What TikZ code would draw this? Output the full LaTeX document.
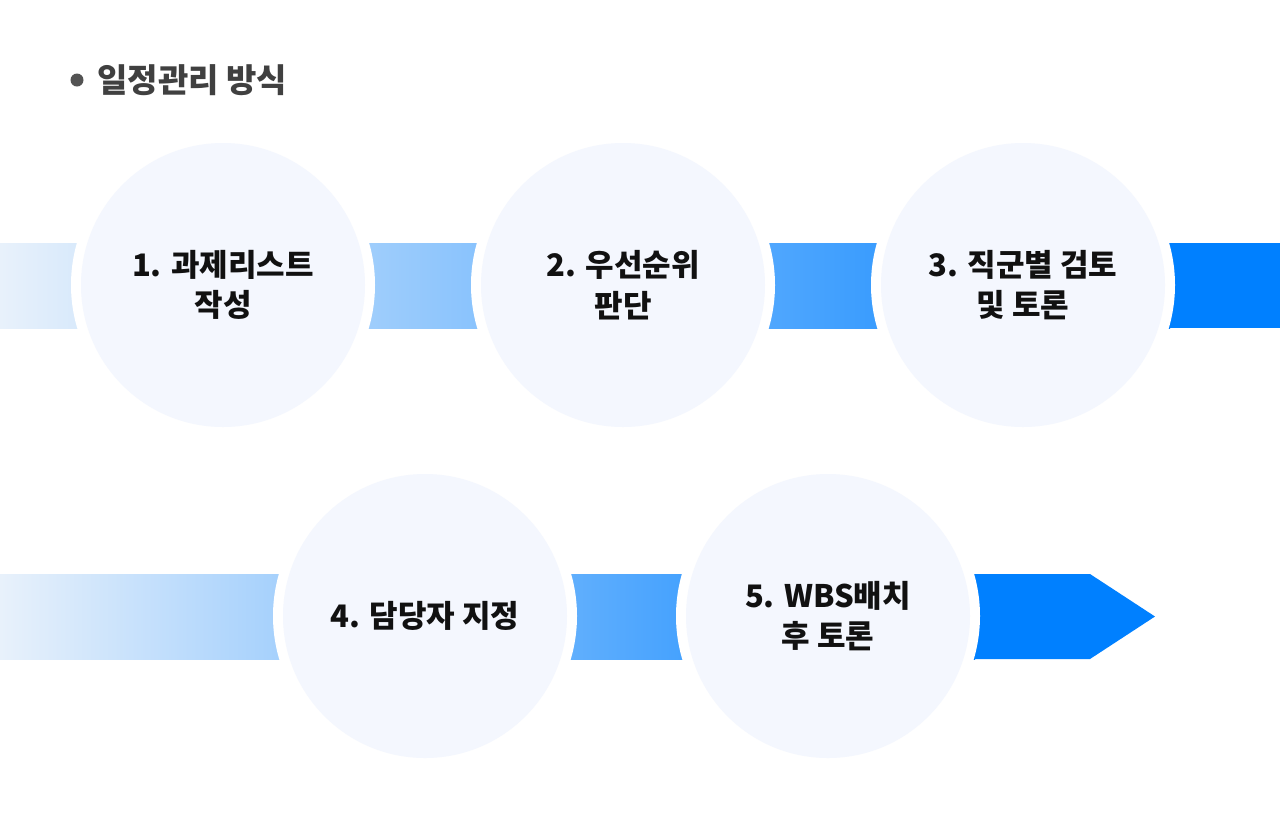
\documentclass[tikz,border=0pt]{standalone}
\usepackage{fontspec}
\setmainfont{Noto Sans CJK KR}
\usepackage{tikz}

\definecolor{bandlight}{HTML}{E8F1FB}
\definecolor{bandblue}{HTML}{0080FF}
\definecolor{circlefill}{HTML}{F4F7FE}
\definecolor{titlegray}{HTML}{404040}
\definecolor{labelblack}{HTML}{111111}

\begin{document}
\begin{tikzpicture}[x=1pt, y=-1pt]
    \tikzset{
      stepcircle/.style={circle, inner sep=0pt, minimum size=284pt, fill=circlefill,
        preaction={draw=white, line width=20pt}, align=center, text=labelblack,
        font=\fontsize{31}{40.5}\selectfont\bfseries},
      title/.style={anchor=west, text=titlegray, font=\fontsize{33}{38}\selectfont\bfseries}
    }
    \useasboundingbox[fill=white] (0,0) rectangle (1280,831);

    % baslik
    \fill[titlegray!90] (77,80) circle (6.5);
    \node[title] (title) at (94,80) {일정관리 방식};

    % ust bant
    \fill[left color=bandlight, right color=bandblue] (0,243) rectangle (1170,328);
    \fill[bandblue] (1170,243) rectangle (1280,328);

    % alt bant + ok ucu
    \fill[left color=bandlight, right color=bandblue] (0,574) rectangle (975,659);
    \fill[bandblue] (960,574) -- (1090,574) -- (1155,616.5) -- (1090,659) -- (960,659) -- cycle;

    % adimlar
    \node[stepcircle] (c1) at (223,285) {1. 과제리스트\\작성};
    \node[stepcircle] (c2) at (623,285) {2. 우선순위\\판단};
    \node[stepcircle] (c3) at (1023,285) {3. 직군별 검토\\및 토론};
    \node[stepcircle] (c4) at (425,616) {4. 담당자 지정};
    \node[stepcircle] (c5) at (828,616) {5. WBS배치\\후 토론};
\end{tikzpicture}
\end{document}
